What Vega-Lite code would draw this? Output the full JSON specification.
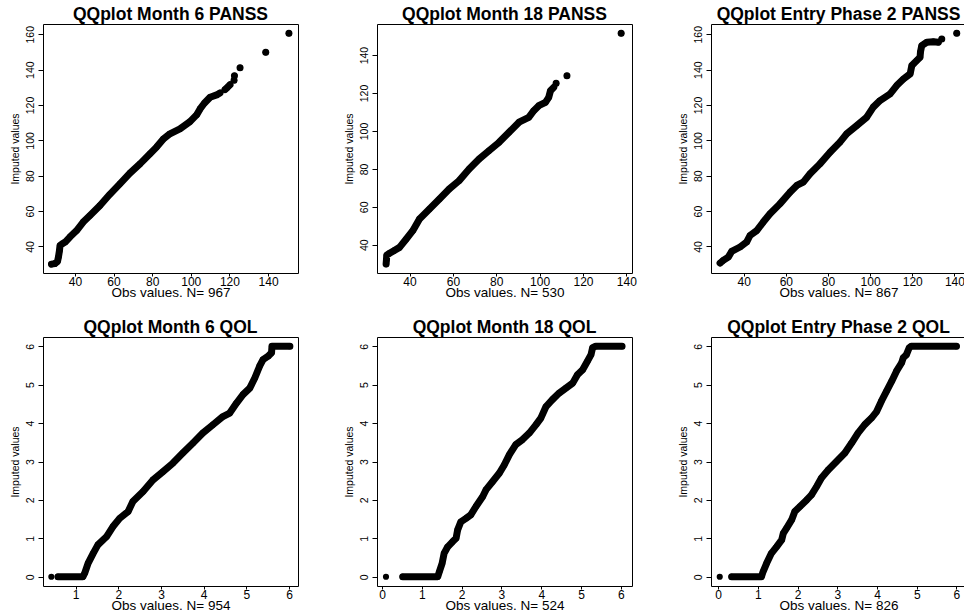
{
  "$schema": "https://vega.github.io/schema/vega-lite/v6.json",
  "background": "white",
  "padding": {"left": 9, "top": 5, "right": 0, "bottom": 0},
  "bounds": "flush",
  "columns": 3,
  "spacing": {"row": 64, "column": 79},
  "config": {
    "font": "Liberation Sans",
    "view": {"stroke": "black", "strokeWidth": 1},
    "axis": {"grid": false, "domain": false, "tickColor": "black", "labelColor": "black", "titleColor": "black", "titleFontWeight": "normal", "labelFont": "Liberation Sans", "titleFont": "Liberation Sans", "labelFlush": false, "labelOverlap": false},
    "axisX": {"tickSize": 3, "labelPadding": 0, "labelFontSize": 12, "titleFontSize": 13.5, "titlePadding": -2},
    "axisY": {"tickSize": 5, "labelPadding": 3, "labelFontSize": 10.5, "labelAngle": -90, "labelAlign": "center", "labelBaseline": "bottom", "titleFontSize": 10.5, "titlePadding": 5},
    "title": {"fontSize": 17.5, "font": "Liberation Sans", "fontWeight": "bold", "color": "black", "offset": 1, "anchor": "middle"}
  },
  "datasets": {
    "p1": [
      {"x": 27.9, "y": 30.0, "s": 1}, {"x": 29.6, "y": 30.3, "s": 1}, {"x": 31.0, "y": 31.5, "s": 1}, {"x": 31.5, "y": 34.0, "s": 1}, {"x": 32.0, "y": 37.5, "s": 1}, {"x": 32.3, "y": 40.5, "s": 1}, {"x": 33.5, "y": 41.5, "s": 1}, {"x": 35.0, "y": 42.5, "s": 1}, {"x": 37.4, "y": 45.3, "s": 1}, {"x": 40.9, "y": 49.0, "s": 1}, {"x": 44.3, "y": 53.8, "s": 1}, {"x": 47.8, "y": 57.5, "s": 1}, {"x": 53.0, "y": 63.2, "s": 1}, {"x": 58.1, "y": 69.5, "s": 1}, {"x": 63.3, "y": 75.4, "s": 1}, {"x": 68.5, "y": 81.5, "s": 1}, {"x": 73.7, "y": 86.7, "s": 1}, {"x": 78.9, "y": 92.4, "s": 1}, {"x": 82.3, "y": 96.2, "s": 1}, {"x": 85.8, "y": 100.8, "s": 1}, {"x": 89.2, "y": 103.7, "s": 1}, {"x": 94.4, "y": 106.5, "s": 1}, {"x": 99.6, "y": 110.6, "s": 1}, {"x": 103.0, "y": 114.4, "s": 1}, {"x": 104.8, "y": 117.8, "s": 1}, {"x": 107.0, "y": 121.0, "s": 1}, {"x": 110.0, "y": 124.4, "s": 1}, {"x": 113.4, "y": 125.7, "s": 1}, {"x": 115.1, "y": 126.8, "s": 1},
      {"x": 117.7, "y": 128.7, "s": 2}, {"x": 119.0, "y": 130.0, "s": 2}, {"x": 120.3, "y": 131.4, "s": 2},
      {"x": 122.4, "y": 134.0, "s": 3}, {"x": 122.6, "y": 136.5, "s": 4}, {"x": 125.5, "y": 141.0, "s": 5}, {"x": 138.8, "y": 149.8, "s": 6}, {"x": 150.8, "y": 160.5, "s": 7}
    ],
    "p2": [
      {"x": 29.2, "y": 29.8, "s": 1}, {"x": 29.35, "y": 32.0, "s": 1}, {"x": 29.5, "y": 34.5, "s": 1}, {"x": 30.8, "y": 35.5, "s": 1}, {"x": 33.0, "y": 37.0, "s": 1}, {"x": 35.4, "y": 38.6, "s": 1}, {"x": 38.5, "y": 43.0, "s": 1}, {"x": 41.5, "y": 47.4, "s": 1}, {"x": 44.6, "y": 53.6, "s": 1}, {"x": 49.2, "y": 58.8, "s": 1}, {"x": 53.8, "y": 64.1, "s": 1}, {"x": 58.3, "y": 69.4, "s": 1}, {"x": 62.9, "y": 73.8, "s": 1}, {"x": 67.5, "y": 79.9, "s": 1}, {"x": 72.1, "y": 85.2, "s": 1}, {"x": 76.7, "y": 89.6, "s": 1}, {"x": 81.3, "y": 94.0, "s": 1}, {"x": 85.9, "y": 99.3, "s": 1}, {"x": 90.5, "y": 104.6, "s": 1}, {"x": 95.0, "y": 107.2, "s": 1}, {"x": 97.3, "y": 110.7, "s": 1}, {"x": 99.6, "y": 113.3, "s": 1}, {"x": 102.7, "y": 115.1, "s": 1}, {"x": 104.2, "y": 117.7, "s": 1}, {"x": 105.0, "y": 121.2, "s": 1}, {"x": 106.5, "y": 123.0, "s": 1},
      {"x": 107.6, "y": 125.1, "s": 2}, {"x": 112.6, "y": 129.1, "s": 3}, {"x": 137.6, "y": 151.5, "s": 4}
    ],
    "p3": [
      {"x": 28.8, "y": 30.6, "s": 1}, {"x": 30.3, "y": 32.1, "s": 1}, {"x": 32.7, "y": 34.0, "s": 1}, {"x": 34.3, "y": 37.2, "s": 1}, {"x": 38.3, "y": 39.7, "s": 1}, {"x": 41.4, "y": 42.5, "s": 1}, {"x": 43.0, "y": 46.2, "s": 1}, {"x": 46.2, "y": 49.0, "s": 1}, {"x": 49.3, "y": 53.8, "s": 1}, {"x": 52.5, "y": 58.5, "s": 1}, {"x": 57.2, "y": 64.1, "s": 1}, {"x": 62.0, "y": 70.7, "s": 1}, {"x": 65.2, "y": 74.5, "s": 1}, {"x": 68.3, "y": 76.4, "s": 1}, {"x": 71.5, "y": 81.1, "s": 1}, {"x": 76.2, "y": 86.7, "s": 1}, {"x": 81.0, "y": 93.3, "s": 1}, {"x": 85.7, "y": 99.0, "s": 1}, {"x": 88.9, "y": 103.7, "s": 1}, {"x": 93.7, "y": 108.4, "s": 1}, {"x": 98.4, "y": 113.1, "s": 1}, {"x": 101.5, "y": 118.8, "s": 1}, {"x": 104.7, "y": 122.5, "s": 1}, {"x": 109.5, "y": 126.3, "s": 1}, {"x": 112.6, "y": 131.0, "s": 1}, {"x": 115.8, "y": 134.7, "s": 1}, {"x": 119.0, "y": 137.6, "s": 1}, {"x": 119.8, "y": 142.3, "s": 1}, {"x": 122.1, "y": 145.1, "s": 1}, {"x": 123.7, "y": 147.0, "s": 1}, {"x": 123.9, "y": 150.0, "s": 1}, {"x": 124.5, "y": 153.6, "s": 1}, {"x": 126.9, "y": 155.5, "s": 1}, {"x": 130.0, "y": 155.8, "s": 1}, {"x": 132.4, "y": 155.5, "s": 1},
      {"x": 134.0, "y": 157.3, "s": 2}, {"x": 141.1, "y": 160.6, "s": 3}
    ],
    "p4": [
      {"x": 0.43, "y": 0, "s": 0},
      {"x": 0.585, "y": 0, "s": 1}, {"x": 1.17, "y": 0, "s": 1}, {"x": 1.21, "y": 0.09, "s": 1}, {"x": 1.29, "y": 0.35, "s": 1}, {"x": 1.41, "y": 0.61, "s": 1}, {"x": 1.52, "y": 0.83, "s": 1}, {"x": 1.72, "y": 1.04, "s": 1}, {"x": 1.87, "y": 1.30, "s": 1}, {"x": 2.03, "y": 1.52, "s": 1}, {"x": 2.23, "y": 1.70, "s": 1}, {"x": 2.34, "y": 1.96, "s": 1}, {"x": 2.58, "y": 2.22, "s": 1}, {"x": 2.81, "y": 2.52, "s": 1}, {"x": 3.05, "y": 2.74, "s": 1}, {"x": 3.28, "y": 2.96, "s": 1}, {"x": 3.51, "y": 3.22, "s": 1}, {"x": 3.75, "y": 3.48, "s": 1}, {"x": 3.98, "y": 3.74, "s": 1}, {"x": 4.22, "y": 3.96, "s": 1}, {"x": 4.45, "y": 4.17, "s": 1}, {"x": 4.61, "y": 4.26, "s": 1}, {"x": 4.77, "y": 4.52, "s": 1}, {"x": 4.92, "y": 4.74, "s": 1}, {"x": 5.08, "y": 4.91, "s": 1}, {"x": 5.20, "y": 5.18, "s": 1}, {"x": 5.31, "y": 5.48, "s": 1}, {"x": 5.39, "y": 5.65, "s": 1}, {"x": 5.51, "y": 5.74, "s": 1}, {"x": 5.59, "y": 5.83, "s": 1}, {"x": 5.60, "y": 6.0, "s": 1}, {"x": 6.02, "y": 6.0, "s": 1}
    ],
    "p5": [
      {"x": 0.10, "y": 0, "s": 0},
      {"x": 0.52, "y": 0, "s": 1}, {"x": 1.40, "y": 0, "s": 1}, {"x": 1.44, "y": 0.13, "s": 1}, {"x": 1.51, "y": 0.35, "s": 1}, {"x": 1.56, "y": 0.61, "s": 1}, {"x": 1.65, "y": 0.78, "s": 1}, {"x": 1.77, "y": 0.91, "s": 1}, {"x": 1.86, "y": 1.0, "s": 1}, {"x": 1.90, "y": 1.22, "s": 1}, {"x": 1.98, "y": 1.43, "s": 1}, {"x": 2.11, "y": 1.52, "s": 1}, {"x": 2.23, "y": 1.61, "s": 1}, {"x": 2.36, "y": 1.83, "s": 1}, {"x": 2.53, "y": 2.09, "s": 1}, {"x": 2.61, "y": 2.26, "s": 1}, {"x": 2.78, "y": 2.48, "s": 1}, {"x": 2.95, "y": 2.70, "s": 1}, {"x": 3.07, "y": 2.91, "s": 1}, {"x": 3.20, "y": 3.18, "s": 1}, {"x": 3.36, "y": 3.44, "s": 1}, {"x": 3.53, "y": 3.57, "s": 1}, {"x": 3.70, "y": 3.74, "s": 1}, {"x": 3.87, "y": 3.96, "s": 1}, {"x": 3.99, "y": 4.13, "s": 1}, {"x": 4.12, "y": 4.43, "s": 1}, {"x": 4.28, "y": 4.61, "s": 1}, {"x": 4.45, "y": 4.78, "s": 1}, {"x": 4.62, "y": 4.91, "s": 1}, {"x": 4.79, "y": 5.04, "s": 1}, {"x": 4.91, "y": 5.26, "s": 1}, {"x": 5.04, "y": 5.39, "s": 1}, {"x": 5.16, "y": 5.61, "s": 1}, {"x": 5.25, "y": 5.78, "s": 1}, {"x": 5.29, "y": 5.96, "s": 1}, {"x": 5.37, "y": 6.0, "s": 1}, {"x": 6.03, "y": 6.0, "s": 1}
    ],
    "p6": [
      {"x": 0.04, "y": 0, "s": 0},
      {"x": 0.34, "y": 0, "s": 1}, {"x": 1.09, "y": 0, "s": 1}, {"x": 1.13, "y": 0.13, "s": 1}, {"x": 1.22, "y": 0.35, "s": 1}, {"x": 1.34, "y": 0.61, "s": 1}, {"x": 1.47, "y": 0.78, "s": 1}, {"x": 1.60, "y": 0.96, "s": 1}, {"x": 1.64, "y": 1.13, "s": 1}, {"x": 1.72, "y": 1.26, "s": 1}, {"x": 1.85, "y": 1.48, "s": 1}, {"x": 1.93, "y": 1.70, "s": 1}, {"x": 2.06, "y": 1.83, "s": 1}, {"x": 2.23, "y": 2.0, "s": 1}, {"x": 2.35, "y": 2.13, "s": 1}, {"x": 2.48, "y": 2.35, "s": 1}, {"x": 2.60, "y": 2.57, "s": 1}, {"x": 2.77, "y": 2.78, "s": 1}, {"x": 2.98, "y": 3.0, "s": 1}, {"x": 3.19, "y": 3.22, "s": 1}, {"x": 3.36, "y": 3.48, "s": 1}, {"x": 3.52, "y": 3.74, "s": 1}, {"x": 3.69, "y": 3.96, "s": 1}, {"x": 3.86, "y": 4.13, "s": 1}, {"x": 3.99, "y": 4.30, "s": 1}, {"x": 4.11, "y": 4.57, "s": 1}, {"x": 4.24, "y": 4.83, "s": 1}, {"x": 4.37, "y": 5.09, "s": 1}, {"x": 4.49, "y": 5.35, "s": 1}, {"x": 4.62, "y": 5.57, "s": 1}, {"x": 4.66, "y": 5.70, "s": 1}, {"x": 4.74, "y": 5.78, "s": 1}, {"x": 4.81, "y": 5.96, "s": 1}, {"x": 4.86, "y": 6.0, "s": 1}, {"x": 6.0, "y": 6.0, "s": 1}
    ]
  },
  "concat": [
    {
      "data": {"name": "p1"}, "title": "QQplot Month 6 PANSS", "width": 255, "height": 249,
      "encoding": {
        "x": {"field": "x", "type": "quantitative", "scale": {"domain": [23.5, 155.5], "nice": false, "zero": false}, "axis": {"title": "Obs values. N= 967"}},
        "y": {"field": "y", "type": "quantitative", "scale": {"domain": [25, 165.8], "nice": false, "zero": false}, "axis": {"title": "Imputed values"}}
      },
      "layer": [
        {"transform": [{"filter": "datum.s > 0"}], "mark": {"type": "line", "color": "black", "strokeWidth": 7, "strokeCap": "round", "strokeJoin": "round"}, "encoding": {"detail": {"field": "s"}}},
        {"mark": {"type": "point", "filled": true, "color": "black", "opacity": 1, "size": 38}}
      ]
    },
    {
      "data": {"name": "p2"}, "title": "QQplot Month 18 PANSS", "width": 255, "height": 249,
      "encoding": {
        "x": {"field": "x", "type": "quantitative", "scale": {"domain": [25, 142.6], "nice": false, "zero": false}, "axis": {"title": "Obs values. N= 530"}},
        "y": {"field": "y", "type": "quantitative", "scale": {"domain": [25.1, 156.4], "nice": false, "zero": false}, "axis": {"title": "Imputed values"}}
      },
      "layer": [
        {"transform": [{"filter": "datum.s > 0"}], "mark": {"type": "line", "color": "black", "strokeWidth": 7, "strokeCap": "round", "strokeJoin": "round"}, "encoding": {"detail": {"field": "s"}}},
        {"mark": {"type": "point", "filled": true, "color": "black", "opacity": 1, "size": 38}}
      ]
    },
    {
      "data": {"name": "p3"}, "title": "QQplot Entry Phase 2 PANSS", "width": 255, "height": 249,
      "encoding": {
        "x": {"field": "x", "type": "quantitative", "scale": {"domain": [24.5, 145.5], "nice": false, "zero": false}, "axis": {"title": "Obs values. N= 867"}},
        "y": {"field": "y", "type": "quantitative", "scale": {"domain": [25, 165.8], "nice": false, "zero": false}, "axis": {"title": "Imputed values"}}
      },
      "layer": [
        {"transform": [{"filter": "datum.s > 0"}], "mark": {"type": "line", "color": "black", "strokeWidth": 7, "strokeCap": "round", "strokeJoin": "round"}, "encoding": {"detail": {"field": "s"}}},
        {"mark": {"type": "point", "filled": true, "color": "black", "opacity": 1, "size": 38}}
      ]
    },
    {
      "data": {"name": "p4"}, "title": "QQplot Month 6 QOL", "width": 255, "height": 249,
      "encoding": {
        "x": {"field": "x", "type": "quantitative", "scale": {"domain": [0.234, 6.21], "nice": false, "zero": false}, "axis": {"title": "Obs values. N= 954"}},
        "y": {"field": "y", "type": "quantitative", "scale": {"domain": [-0.24, 6.24], "nice": false, "zero": false}, "axis": {"title": "Imputed values"}}
      },
      "layer": [
        {"transform": [{"filter": "datum.s > 0"}], "mark": {"type": "line", "color": "black", "strokeWidth": 7, "strokeCap": "round", "strokeJoin": "round"}, "encoding": {"detail": {"field": "s"}}},
        {"mark": {"type": "point", "filled": true, "color": "black", "opacity": 1, "size": 38}}
      ]
    },
    {
      "data": {"name": "p5"}, "title": "QQplot Month 18 QOL", "width": 255, "height": 249,
      "encoding": {
        "x": {"field": "x", "type": "quantitative", "scale": {"domain": [-0.126, 6.28], "nice": false, "zero": false}, "axis": {"title": "Obs values. N= 524"}},
        "y": {"field": "y", "type": "quantitative", "scale": {"domain": [-0.24, 6.24], "nice": false, "zero": false}, "axis": {"title": "Imputed values"}}
      },
      "layer": [
        {"transform": [{"filter": "datum.s > 0"}], "mark": {"type": "line", "color": "black", "strokeWidth": 7, "strokeCap": "round", "strokeJoin": "round"}, "encoding": {"detail": {"field": "s"}}},
        {"mark": {"type": "point", "filled": true, "color": "black", "opacity": 1, "size": 38}}
      ]
    },
    {
      "data": {"name": "p6"}, "title": "QQplot Entry Phase 2 QOL", "width": 255, "height": 249,
      "encoding": {
        "x": {"field": "x", "type": "quantitative", "scale": {"domain": [-0.18, 6.24], "nice": false, "zero": false}, "axis": {"title": "Obs values. N= 826"}},
        "y": {"field": "y", "type": "quantitative", "scale": {"domain": [-0.24, 6.24], "nice": false, "zero": false}, "axis": {"title": "Imputed values"}}
      },
      "layer": [
        {"transform": [{"filter": "datum.s > 0"}], "mark": {"type": "line", "color": "black", "strokeWidth": 7, "strokeCap": "round", "strokeJoin": "round"}, "encoding": {"detail": {"field": "s"}}},
        {"mark": {"type": "point", "filled": true, "color": "black", "opacity": 1, "size": 38}}
      ]
    }
  ]
}
